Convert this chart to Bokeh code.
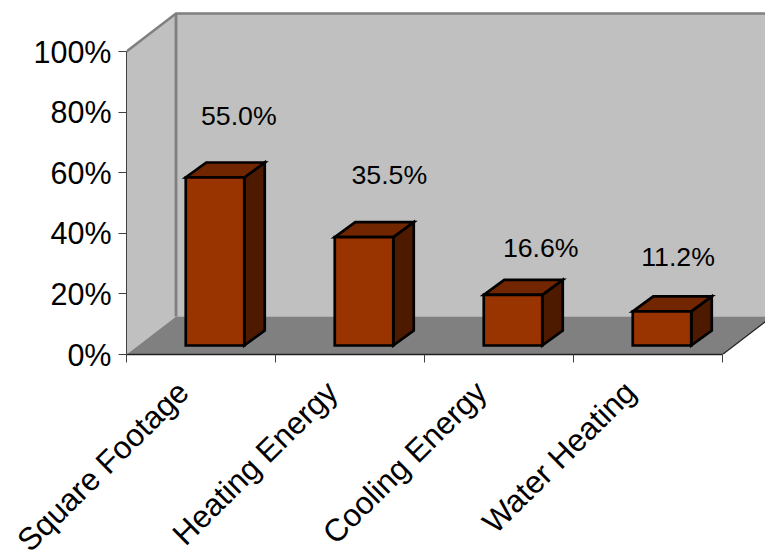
from bokeh.plotting import figure
from bokeh.models import Range1d, LinearAxis, FixedTicker
from bokeh.core.properties import value
from bokeh.embed import file_html
from bokeh.resources import INLINE

categories = ["Square Footage", "Heating Energy", "Cooling Energy", "Water Heating"]
shares = [55.0, 35.5, 16.6, 11.2]
share_labels = ["55.0%", "35.5%", "16.6%", "11.2%"]
pct_ticks = [0, 20, 40, 60, 80, 100]

FONT = "Liberation Sans"
WALL, FLOOR, EDGE = "#c0c0c0", "#808080", "#808080"
FRONT, TOP, SIDE = "#993300", "#722600", "#4d1a00"

# Oblique projection constants, in data units
X_MAX = 639 / 149
Y_MAX = 354 / 3.03
ROOM_DX, ROOM_DY = 49.5 / 149, 38 / 3.03
BAR_DX, BAR_DY = 20.5 / 149, 15 / 3.03
BAR_BASE = 9 / 3.03
BAR_W = 58.5 / 149
BAR_CENTRE = 0.594
BAR_SCALE = 1.008
# Offsets of the value labels from the bar's centre and top
LABEL_DX = [0.16, 0.17, 0.186, 0.108]
LABEL_DY = [20.4, 20.6, 15.5, 17.8]

p = figure(width=765, height=554, output_backend="svg", toolbar_location=None,
           x_range=Range1d(0, X_MAX), y_range=Range1d(0, Y_MAX),
           min_border_left=126, min_border_right=0, min_border_top=0, min_border_bottom=200,
           frame_width=639, frame_height=354, x_axis_location=None, y_axis_location=None)
p.outline_line_color = None
p.grid.visible = False
p.background_fill_color = "white"

# Room: left wall, back wall, floor
p.patch([0, ROOM_DX, ROOM_DX, 0], [100, 100 + ROOM_DY, ROOM_DY, 0], fill_color=WALL, line_color=None)
p.patch([ROOM_DX, X_MAX, X_MAX, ROOM_DX], [ROOM_DY, ROOM_DY, 100 + ROOM_DY, 100 + ROOM_DY],
        fill_color=WALL, line_color=None)
edge_y = ROOM_DY * (X_MAX - 4) / ROOM_DX
p.patch([0, ROOM_DX, X_MAX, X_MAX, 4], [0, ROOM_DY, ROOM_DY, edge_y, 0], fill_color=FLOOR, line_color=None)
p.line([0, ROOM_DX, X_MAX], [100, 100 + ROOM_DY, 100 + ROOM_DY], line_color=EDGE, line_width=2.5)
p.line([ROOM_DX, ROOM_DX], [ROOM_DY, 100 + ROOM_DY], line_color=EDGE, line_width=2.8)
p.line([4, X_MAX], [0, edge_y], line_color="#202020", line_width=1.2)

# Bars drawn as boxes: side, top, front
for i, v in enumerate(shares):
    x0 = i + BAR_CENTRE - BAR_W / 2
    x1 = x0 + BAR_W
    y0 = BAR_BASE
    y1 = BAR_BASE + v * BAR_SCALE
    style = dict(line_color="black", line_width=2.7, line_join="miter")
    p.patch([x1, x1 + BAR_DX, x1 + BAR_DX, x1], [y0, y0 + BAR_DY, y1 + BAR_DY, y1], fill_color=SIDE, **style)
    p.patch([x0, x1, x1 + BAR_DX, x0 + BAR_DX], [y1, y1, y1 + BAR_DY, y1 + BAR_DY], fill_color=TOP, **style)
    p.patch([x0, x1, x1, x0], [y0, y0, y1, y1], fill_color=FRONT, **style)

label_x = [i + BAR_CENTRE + d for i, d in enumerate(LABEL_DX)]
label_y = [BAR_BASE + v * BAR_SCALE + d for v, d in zip(shares, LABEL_DY)]
p.text(label_x, label_y, text=share_labels, text_font=value(FONT), text_font_size="26.7px",
       text_color="black", text_align="center", text_baseline="middle")

# Value axis on the front-left edge
yax = LinearAxis(ticker=FixedTicker(ticks=pct_ticks), bounds=(0, 100))
yax.major_label_overrides = {t: f"{t}%" for t in pct_ticks}
yax.major_label_text_font = FONT
yax.major_label_text_font_size = "30.5px"
yax.major_label_text_color = "black"
yax.major_label_standoff = 7
yax.axis_line_color = "#404040"
yax.major_tick_line_color = "#404040"
yax.major_tick_in = 0
yax.major_tick_out = 8
yax.minor_tick_line_color = None
p.add_layout(yax, "left")

# Category boundaries carry the ticks
xax = LinearAxis(ticker=FixedTicker(ticks=[0, 1, 2, 3, 4]), bounds=(0, 4))
xax.major_label_text_font_size = "0px"
xax.major_label_text_color = None
xax.axis_line_color = "#202020"
xax.axis_line_width = 1.5
xax.major_tick_line_color = "#404040"
xax.major_tick_in = 0
xax.major_tick_out = 8
xax.minor_tick_line_color = None
xax.major_label_standoff = 0
p.add_layout(xax, "below")

# Category names sit between the ticks
cat_positions = [i + 0.38 for i in range(len(categories))]
cax = LinearAxis(ticker=FixedTicker(ticks=cat_positions))
cax.major_label_overrides = {t: c for t, c in zip(cat_positions, categories)}
cax.major_label_orientation = 0.78
cax.major_label_text_font = FONT
cax.major_label_text_font_size = "31.5px"
cax.major_label_text_color = "black"
cax.major_label_standoff = 18
cax.axis_line_color = None
cax.major_tick_line_color = None
cax.minor_tick_line_color = None
p.add_layout(cax, "below")

open("out.html", "w").write(file_html(p, INLINE))
